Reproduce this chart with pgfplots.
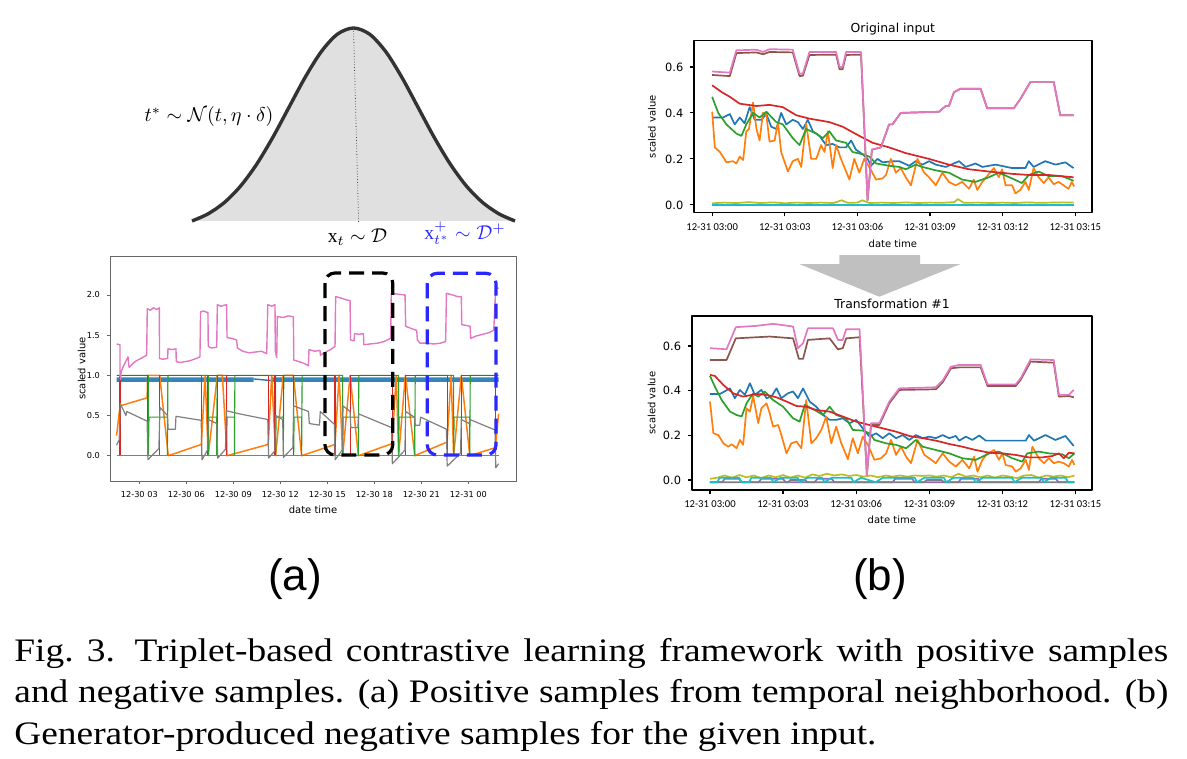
\documentclass[border=0pt]{standalone}
\usepackage{fontspec}
\setmainfont{Liberation Serif}
\newfontfamily\capfont[FakeStretch=1.14]{Liberation Serif}
\newfontfamily\dejavu{DejaVu Sans}
\newfontfamily\carlito{Carlito}
\newfontfamily\arialf{Liberation Sans}
\usepackage{pgfplots}
\pgfplotsset{compat=1.18}

\definecolor{tabblue}{HTML}{1F77B4}
\definecolor{taborange}{HTML}{FF7F0E}
\definecolor{tabgreen}{HTML}{2CA02C}
\definecolor{tabred}{HTML}{D62728}
\definecolor{tabpurple}{HTML}{9467BD}
\definecolor{tabbrown}{HTML}{8C564B}
\definecolor{tabpink}{HTML}{E377C2}
\definecolor{tabgray}{HTML}{7F7F7F}
\definecolor{tabolive}{HTML}{BCBD22}
\definecolor{tabcyan}{HTML}{17BECF}
\definecolor{gaussfill}{HTML}{E0E0E0}
\definecolor{gaussline}{HTML}{333333}
\definecolor{posblue}{HTML}{2828FF}
\definecolor{arrowgray}{HTML}{C0C0C0}

\pgfplotsset{
  rightax/.style={
    scale only axis, xmin=-0.75, xmax=15.68,
    axis line style={line width=0.8pt, black},
    tick pos=left, tick align=outside, major tick length=1.8pt,
    every tick/.style={black, line width=0.6pt},
    xtick={0,3,6,9,12,15},
    xticklabels={12-31 03:00,12-31 03:03,12-31 03:06,12-31 03:09,12-31 03:12,12-31 03:15},
    ytick={0,0.2,0.4,0.6}, yticklabels={0.0,0.2,0.4,0.6},
    xticklabel style={font=\carlito\fontsize{5.3}{6}\selectfont},
    yticklabel style={font=\dejavu\fontsize{5.7}{6}\selectfont},
    xlabel={date time}, ylabel={scaled value},
    label style={font=\dejavu\fontsize{5}{6}\selectfont},
    no markers, line join=round, every axis plot/.append style={line width=0.85pt},
  },
}

\begin{document}
\begin{tikzpicture}
\begin{scope}[x=0.5pt,y=-0.5pt]
\path[use as bounding box] (0,0) rectangle (1187,759);
\coordinate (G) at (192,221);
\coordinate (L) at (110,481);
\coordinate (R1) at (694,212.7);
\coordinate (R2) at (691.7,490);
\end{scope}

% bell curve
\begin{axis}[at={(G)}, anchor=south west, scale only axis, width=161.5pt, height=96.5pt,
  xmin=-2.5, xmax=2.5, ymin=0, ymax=0.9561, hide axis, clip=false]
\addplot[fill=gaussfill, draw=none, smooth] coordinates {
(-2.5,0)(-2.25,0.0357)(-2,0.0914)(-1.75,0.1724)(-1.5,0.2808)(-1.25,0.4139)(-1,0.5626)
(-0.75,0.7109)(-0.5,0.8386)(-0.25,0.9253)(0,0.9561)(0.25,0.9253)(0.5,0.8386)(0.75,0.7109)
(1,0.5626)(1.25,0.4139)(1.5,0.2808)(1.75,0.1724)(2,0.0914)(2.25,0.0357)(2.5,0)} \closedcycle;
\addplot[gaussline, line width=1.7pt, smooth] coordinates {
(-2.5,0)(-2.25,0.0357)(-2,0.0914)(-1.75,0.1724)(-1.5,0.2808)(-1.25,0.4139)(-1,0.5626)
(-0.75,0.7109)(-0.5,0.8386)(-0.25,0.9253)(0,0.9561)(0.25,0.9253)(0.5,0.8386)(0.75,0.7109)
(1,0.5626)(1.25,0.4139)(1.5,0.2808)(1.75,0.1724)(2,0.0914)(2.25,0.0357)(2.5,0)};
\draw[densely dotted, gray!60!black, line width=0.4pt] (axis cs:0,0.956) -- (axis cs:0.08,-0.01);
\end{axis}

% positive samples from the neighbourhood
\begin{axis}[at={(L)}, anchor=south west, scale only axis, width=203pt, height=112.5pt,
  xmin=1.13, xmax=27.04, ymin=-0.315, ymax=2.485,
  axis line style={line width=0.4pt, gray!80!black}, tick pos=left, tick align=outside,
  major tick length=1.5pt, every tick/.style={gray!80!black, line width=0.4pt},
  xtick={3,6,9,12,15,18,21,24},
  xticklabels={12-30 03,12-30 06,12-30 09,12-30 12,12-30 15,12-30 18,12-30 21,12-31 00},
  ytick={0,0.5,1,1.5,2}, yticklabels={0.0,0.5,1.0,1.5,2.0},
  ticklabel style={font=\dejavu\fontsize{4.1}{5}\selectfont},
  xlabel={date time}, ylabel={scaled value},
  label style={font=\dejavu\fontsize{5}{6}\selectfont},
  xlabel style={at={(axis description cs:0.5,-0.129)}, anchor=center},
  ylabel style={at={(axis description cs:-0.07,0.5)}, anchor=center},
  unbounded coords=jump, no markers, line join=round]
% dense blue series drawn as its band
\addplot[fill=tabblue!90, draw=none] coordinates {
(1.55,0.918)(10.3,0.918)(10.3,0.975)(1.55,0.975)(1.55,0.918)};
\addplot[fill=tabblue!90, draw=none] coordinates {
(11.4,0.918)(25.93,0.918)(25.93,0.975)(11.4,0.975)(11.4,0.918)};
\addplot[tabblue, line width=0.7pt] coordinates {(10.3,0.955)(11.4,0.935)};
\addplot[tabblue!70, line width=0.5pt] coordinates {
(3.58,0.95)(3.58,0)(3.58,nan)(4.83,0.95)(4.83,0)(4.83,nan)(15.98,0.95)(15.98,0)(15.98,nan)(23.06,0.95)(23.06,0)};
\addplot[taborange, line width=0.75pt] coordinates {
(1.55,0.25)(1.77,0.62)(3.50,0.72)(3.53,1.0)(4.30,1.0)(4.85,0.0)(6.96,0.14)(7.20,1.0)(7.40,0.0)
(7.98,1.0)(8.30,1.0)(8.60,0.0)(11.23,0.14)(11.45,1.0)(11.70,0.0)(12.19,1.0)(12.83,1.0)(13.36,0.0)
(15.49,0.14)(15.75,1.0)(15.98,0.0)(16.45,1.0)(16.98,0.0)(19.13,0.15)(19.40,1.0)(19.55,0.0)
(19.98,1.0)(20.58,0.0)(22.64,0.17)(22.90,1.0)(23.06,0.0)(23.55,1.0)(24.09,0.0)(25.72,0.10)(25.93,0.52)};
\addplot[tabgreen, line width=0.55pt] coordinates {
(1.55,1)(3.58,1)(3.58,0)(3.62,0.48)(4.79,0.48)(4.79,0)(4.83,1)
(7.40,1)(7.40,0)(7.43,0.48)(7.94,0.48)(7.94,0)(7.97,1)
(8.57,1)(8.57,0)(8.60,0.48)(9.07,0.48)(9.07,0)(9.10,1)
(11.70,1)(11.70,0)(11.73,0.48)(12.19,0.48)(12.19,0)(12.22,1)
(12.85,1)(12.85,0)(12.88,0.48)(13.36,0.48)(13.36,0)(13.39,1)
(15.98,1)(15.98,0)(16.01,0.48)(16.98,0.48)(16.98,0)(17.01,1)
(19.55,1)(19.55,0)(19.58,0.48)(20.58,0.48)(20.58,0)(20.61,1)
(23.06,1)(23.06,0)(23.09,0.48)(24.09,0.48)(24.09,0)(24.12,1)(25.93,1)};
\addplot[tabred, line width=0.55pt] coordinates {
(1.55,1)(1.76,1)(1.76,0)(1.79,0)(1.79,1)(3.51,1)(3.51,0)(4.30,0)(4.30,1)(6.96,1)(6.96,0)(7.38,0)
(7.38,1)(7.98,1)(7.98,0)(8.55,0)(8.55,1)(11.23,1)(11.23,0)(11.66,0)(11.66,1)(12.19,1)(12.19,0)
(12.83,0)(12.83,1)(15.49,1)(15.49,0)(16.45,0)(16.45,1)(19.13,1)(19.13,0)(19.98,0)(19.98,1)
(22.64,1)(22.64,0)(23.55,0)(23.55,1)(25.72,1)(25.72,0)(25.93,0)};
\addplot[tabpurple, line width=0.6pt] coordinates {(1.55,0)(25.93,0)};
\addplot[tabpink, line width=0.7pt] coordinates {
(1.55,1.39)(1.77,1.38)(1.77,1.0)(1.80,0.95)(1.85,1.05)(2.0,1.12)(2.28,1.23)(2.33,1.12)(2.36,1.10)
(2.6,1.15)(2.8,1.18)(3.0,1.20)(3.2,1.22)(3.47,1.25)(3.51,1.83)(3.7,1.81)(3.9,1.84)(4.1,1.82)
(4.28,1.84)(4.29,1.21)(4.5,1.20)(4.81,1.21)(4.83,1.33)(5.1,1.32)(5.34,1.33)(5.36,1.17)(5.6,1.16)
(5.9,1.17)(6.2,1.18)(6.5,1.20)(6.87,1.23)(6.91,1.79)(7.1,1.80)(7.38,1.78)(7.40,1.36)(7.6,1.34)
(7.94,1.35)(7.98,1.88)(8.2,1.86)(8.57,1.88)(8.60,1.47)(8.9,1.46)(9.21,1.44)(9.26,1.34)(9.6,1.30)
(10.0,1.28)(10.4,1.29)(10.8,1.30)(11.13,1.27)(11.20,1.88)(11.45,1.86)(11.66,1.88)(11.68,1.30)
(11.77,1.22)(11.81,1.73)(12.2,1.72)(12.5,1.74)(12.83,1.73)(12.86,1.19)(13.2,1.17)(13.5,1.15)
(13.79,1.12)(13.83,1.32)(14.2,1.30)(14.53,1.31)(14.56,1.25)(14.9,1.29)(15.2,1.32)(15.49,1.36)
(15.53,1.98)(15.9,1.96)(16.2,1.94)(16.45,1.93)(16.48,1.44)(16.7,1.43)(16.74,1.52)(17.0,1.51)
(17.30,1.52)(17.33,1.38)(17.7,1.39)(18.2,1.40)(18.6,1.42)(19.04,1.46)(19.08,2.02)(19.5,2.01)
(19.96,2.0)(20.0,1.61)(20.4,1.58)(20.70,1.56)(20.75,1.44)(20.91,1.40)(21.3,1.40)(21.8,1.39)
(22.2,1.40)(22.55,1.42)(22.60,2.02)(23.0,2.0)(23.3,1.98)(23.55,1.98)(23.58,1.63)(23.9,1.62)
(24.11,1.61)(24.15,1.46)(24.5,1.49)(24.9,1.51)(25.3,1.53)(25.62,1.56)(25.75,2.10)(25.93,2.08)};
\addplot[tabgray, line width=0.6pt] coordinates {
(1.55,0.13)(1.72,0.20)(1.78,0.65)(2.15,0.50)(2.20,0.55)(3.50,0.43)
(3.55,-0.05)(4.25,0.09)(4.32,0.60)(4.80,0.50)(4.84,0.33)(5.30,0.33)(5.34,0.49)(6.95,0.44)
(7.00,-0.05)(7.35,0.07)(7.40,0.45)(7.95,0.40)(8.00,-0.03)(8.50,0.08)(8.55,0.56)(9.40,0.52)(11.20,0.45)
(11.25,-0.03)(11.65,0.06)(11.70,0.50)(12.15,0.45)(12.20,-0.02)(12.80,0.10)(12.85,0.62)(13.80,0.55)
(13.85,0.40)(14.50,0.38)(14.55,0.55)(15.45,0.39)
(15.50,-0.05)(15.95,0.07)(16.00,0.62)(16.45,0.55)(16.50,0.35)(16.95,0.35)(17.00,0.52)(19.10,0.35)
(19.15,-0.10)(19.95,0.07)(20.00,0.55)(20.55,0.48)(20.60,0.38)(20.90,0.38)(20.95,0.48)(22.60,0.33)
(22.65,-0.13)(23.50,0.03)(23.55,0.45)(24.05,0.40)(24.10,0.45)(25.70,0.32)(25.75,-0.15)(25.93,-0.10)};
\end{axis}

% original input
\begin{axis}[rightax, at={(R1)}, anchor=south west, width=198.85pt, height=86pt,
  ymin=-0.034, ymax=0.714,
  xlabel style={at={(axis description cs:0.5,-0.178)}, anchor=center},
  ylabel style={at={(axis description cs:-0.106,0.5)}, anchor=center}]
\addplot[tabblue] coordinates {
(0.00,0.38)(0.45,0.38)(0.73,0.395)(0.93,0.35)(1.14,0.38)(1.34,0.355)(1.55,0.425)(1.76,0.37)
(2.03,0.37)(2.24,0.395)(2.44,0.34)(2.65,0.33)(2.85,0.40)(3.06,0.35)(3.33,0.37)(3.54,0.36)
(3.75,0.33)(3.95,0.37)(4.16,0.32)(4.43,0.30)(4.71,0.26)(4.98,0.265)(5.26,0.25)(5.53,0.25)
(5.74,0.28)(5.94,0.24)(6.22,0.22)(6.42,0.20)(6.56,0.17)(6.83,0.20)(7.04,0.185)(7.45,0.19)
(7.73,0.19)(8.14,0.17)(8.41,0.19)(8.69,0.175)(8.96,0.19)(9.24,0.175)(9.65,0.165)(10.20,0.19)
(10.47,0.165)(10.88,0.18)(11.16,0.165)(11.71,0.175)(12.39,0.16)(12.94,0.16)(13.08,0.19)
(13.28,0.165)(13.76,0.19)(14.18,0.175)(14.59,0.185)(14.93,0.16)};
\addplot[taborange] coordinates {
(0.00,0.405)(0.11,0.25)(0.32,0.23)(0.59,0.185)(0.86,0.19)(1.00,0.18)(1.14,0.21)(1.28,0.195)
(1.41,0.32)(1.52,0.33)(1.69,0.445)(1.83,0.33)(1.96,0.28)(2.10,0.40)(2.24,0.39)(2.37,0.275)
(2.58,0.28)(2.72,0.36)(2.85,0.23)(3.13,0.145)(3.33,0.19)(3.54,0.20)(3.68,0.165)(3.88,0.355)
(4.09,0.20)(4.30,0.20)(4.50,0.26)(4.64,0.23)(4.78,0.32)(4.98,0.16)(5.12,0.26)(5.32,0.20)
(5.67,0.11)(5.87,0.20)(6.08,0.14)(6.28,0.20)(6.49,0.165)(6.77,0.11)(7.04,0.115)(7.18,0.13)
(7.38,0.20)(7.59,0.14)(7.79,0.16)(8.00,0.12)(8.21,0.085)(8.48,0.20)(8.76,0.14)(8.96,0.12)
(9.24,0.085)(9.51,0.14)(9.78,0.10)(10.06,0.085)(10.33,0.10)(10.61,0.07)(10.81,0.11)(10.95,0.065)
(11.16,0.10)(11.36,0.125)(11.64,0.16)(11.84,0.12)(11.98,0.155)(12.12,0.085)(12.39,0.085)
(12.53,0.05)(12.73,0.065)(12.94,0.10)(13.08,0.065)(13.28,0.16)(13.49,0.12)(13.70,0.095)
(13.90,0.12)(14.11,0.09)(14.31,0.10)(14.52,0.085)(14.72,0.07)(14.86,0.10)(14.95,0.08)};
\addplot[tabgreen] coordinates {
(0.00,0.47)(0.25,0.40)(0.59,0.35)(1.00,0.31)(1.21,0.30)(1.41,0.35)(1.69,0.40)(1.96,0.38)
(2.24,0.405)(2.65,0.36)(2.92,0.35)(3.33,0.29)(3.61,0.26)(3.88,0.33)(4.30,0.31)(4.57,0.29)
(4.84,0.32)(5.12,0.28)(5.53,0.27)(5.80,0.23)(6.22,0.22)(6.49,0.21)(6.77,0.18)(7.31,0.17)
(7.73,0.165)(8.00,0.155)(8.41,0.175)(8.69,0.165)(9.24,0.15)(9.78,0.14)(10.33,0.11)(10.88,0.10)
(11.43,0.12)(11.84,0.14)(12.39,0.115)(12.80,0.095)(13.08,0.13)(13.49,0.145)(13.90,0.125)
(14.45,0.125)(14.93,0.105)};
\addplot[tabred] coordinates {
(0.00,0.52)(0.40,0.49)(0.73,0.47)(1.14,0.44)(1.83,0.43)(2.37,0.435)(2.92,0.425)(3.47,0.39)
(4.02,0.375)(4.84,0.36)(5.39,0.34)(6.08,0.30)(6.63,0.27)(7.31,0.25)(8.00,0.225)(8.96,0.20)
(9.78,0.175)(10.60,0.155)(11.43,0.145)(12.39,0.135)(13.08,0.13)(13.90,0.13)(14.93,0.12)};
\addplot[tabpurple] coordinates {(0,0)(14.93,0)};
\addplot[tabbrown] coordinates {
(0.00,0.565)(0.73,0.56)(1.00,0.66)(1.83,0.663)(2.10,0.655)(2.37,0.665)(3.33,0.663)(3.61,0.56)
(3.75,0.562)(4.02,0.652)(5.12,0.653)(5.26,0.59)(5.39,0.59)(5.53,0.652)(6.15,0.653)(6.42,0.02)
(6.60,0.24)(6.97,0.25)(7.31,0.35)(7.45,0.35)(7.79,0.40)(9.37,0.405)(9.65,0.43)(9.78,0.43)
(9.99,0.49)(10.26,0.505)(11.09,0.505)(11.36,0.42)(12.46,0.42)(12.73,0.46)(13.15,0.535)
(14.11,0.535)(14.38,0.39)(14.93,0.39)};
\addplot[tabpink] coordinates {
(0.00,0.58)(0.73,0.575)(1.00,0.672)(1.83,0.675)(2.10,0.665)(2.37,0.677)(3.33,0.675)(3.61,0.57)
(3.75,0.572)(4.02,0.665)(5.12,0.665)(5.26,0.60)(5.39,0.60)(5.53,0.665)(6.15,0.665)(6.42,0.02)
(6.60,0.24)(6.97,0.25)(7.31,0.35)(7.45,0.35)(7.79,0.40)(9.37,0.405)(9.65,0.43)(9.78,0.43)
(9.99,0.49)(10.26,0.505)(11.09,0.505)(11.36,0.42)(12.46,0.42)(12.73,0.46)(13.15,0.535)
(14.11,0.535)(14.38,0.39)(14.93,0.39)};
\addplot[tabgray] coordinates {(0,0)(14.93,0)};
\addplot[tabolive] coordinates {
(0,0.007)(0.5,0.01)(1,0.008)(1.5,0.012)(2,0.008)(2.5,0.011)(3,0.007)(3.5,0.01)(4,0.008)(4.5,0.01)
(5.0,0.008)(5.35,0.02)(5.6,0.009)(6.0,0.01)(6.2,0.02)(6.5,0.008)(7,0.01)(7.5,0.008)(8,0.011)
(8.5,0.008)(9,0.01)(9.5,0.009)(10.0,0.012)(10.15,0.025)(10.4,0.009)(11,0.01)(11.5,0.008)(12,0.01)
(12.5,0.008)(13,0.011)(13.5,0.009)(14,0.01)(14.5,0.011)(14.93,0.01)};
\addplot[tabcyan] coordinates {(0,0)(14.93,0)};
\end{axis}

% transformation #1
\begin{axis}[rightax, at={(R2)}, anchor=south west, width=200.15pt, height=87pt,
  ymin=-0.045, ymax=0.734,
  xlabel style={at={(axis description cs:0.5,-0.172)}, anchor=center},
  ylabel style={at={(axis description cs:-0.1,0.5)}, anchor=center}]
\addplot[tabblue] coordinates {
(0.00,0.385)(0.41,0.385)(0.82,0.410)(1.02,0.366)(1.23,0.403)(1.43,0.381)(1.64,0.433)(1.84,0.381)
(2.11,0.403)(2.32,0.366)(2.52,0.373)(2.73,0.410)(2.93,0.366)(3.20,0.388)(3.41,0.396)(3.61,0.366)
(3.82,0.410)(4.09,0.351)(4.36,0.328)(4.64,0.291)(4.91,0.269)(5.18,0.269)(5.45,0.276)(5.73,0.254)
(6.00,0.269)(6.27,0.231)(6.55,0.194)(6.82,0.209)(7.09,0.187)(7.36,0.209)(7.64,0.187)(7.91,0.201)
(8.18,0.179)(8.45,0.201)(8.73,0.187)(9.00,0.194)(9.27,0.187)(9.55,0.201)(9.82,0.187)(10.09,0.197)
(10.23,0.176)(10.50,0.194)(10.77,0.179)(11.05,0.199)(11.32,0.176)(11.73,0.176)(12.41,0.176)
(12.96,0.176)(13.09,0.201)(13.30,0.176)(13.77,0.201)(14.18,0.179)(14.59,0.197)(14.93,0.152)};
\addplot[taborange] coordinates {
(0.00,0.351)(0.14,0.209)(0.34,0.201)(0.55,0.164)(0.75,0.149)(0.89,0.160)(1.09,0.142)(1.23,0.179)
(1.36,0.157)(1.50,0.321)(1.64,0.306)(1.77,0.376)(1.98,0.254)(2.11,0.321)(2.32,0.343)(2.45,0.299)
(2.59,0.239)(2.80,0.246)(2.93,0.201)(3.14,0.119)(3.34,0.164)(3.55,0.172)(3.75,0.142)(3.95,0.358)
(4.16,0.164)(4.36,0.187)(4.57,0.224)(4.77,0.284)(4.98,0.164)(5.18,0.239)(5.39,0.164)(5.66,0.093)
(5.86,0.187)(6.07,0.119)(6.27,0.194)(6.48,0.157)(6.75,0.090)(7.02,0.097)(7.23,0.119)(7.43,0.179)
(7.64,0.112)(7.84,0.149)(8.05,0.104)(8.25,0.075)(8.52,0.179)(8.80,0.112)(9.00,0.097)(9.27,0.075)
(9.55,0.119)(9.82,0.082)(10.09,0.060)(10.36,0.090)(10.64,0.052)(10.84,0.104)(10.98,0.037)
(11.18,0.090)(11.39,0.119)(11.66,0.134)(11.86,0.090)(12.00,0.119)(12.14,0.067)(12.41,0.060)
(12.55,0.037)(12.75,0.052)(12.96,0.090)(13.09,0.045)(13.23,0.149)(13.50,0.097)(13.71,0.075)
(13.91,0.097)(14.11,0.075)(14.32,0.082)(14.52,0.075)(14.73,0.060)(14.86,0.090)(14.96,0.067)};
\addplot[tabgreen] coordinates {
(0.00,0.466)(0.20,0.418)(0.48,0.358)(0.82,0.306)(1.09,0.291)(1.30,0.284)(1.50,0.343)(1.77,0.388)
(1.98,0.373)(2.25,0.396)(2.59,0.358)(3.00,0.328)(3.41,0.276)(3.68,0.261)(3.89,0.336)(4.30,0.313)
(4.64,0.291)(4.91,0.328)(5.18,0.291)(5.59,0.276)(5.86,0.224)(6.27,0.221)(6.55,0.209)(6.75,0.179)
(7.23,0.164)(7.64,0.157)(8.05,0.142)(8.45,0.179)(8.73,0.149)(9.27,0.134)(9.82,0.119)(10.36,0.097)
(10.91,0.090)(11.46,0.119)(11.86,0.127)(12.41,0.097)(12.82,0.082)(13.02,0.119)(13.50,0.127)
(13.91,0.119)(14.46,0.115)(14.73,0.097)(14.96,0.119)};
\addplot[tabred] coordinates {
(0.00,0.470)(0.20,0.466)(0.55,0.425)(0.95,0.388)(1.36,0.373)(1.91,0.385)(2.32,0.381)(2.73,0.370)
(3.14,0.351)(3.55,0.331)(3.95,0.328)(4.36,0.313)(4.91,0.306)(5.45,0.284)(6.00,0.261)(6.55,0.246)
(7.09,0.231)(7.64,0.216)(8.18,0.197)(8.73,0.187)(9.27,0.176)(9.82,0.161)(10.36,0.149)(10.91,0.134)
(11.46,0.122)(12.00,0.119)(12.55,0.112)(13.09,0.101)(13.64,0.101)(14.05,0.107)(14.32,0.119)
(14.52,0.097)(14.73,0.122)(14.96,0.119)};
\addplot[tabpurple] coordinates {
(0,-0.01)(0.5,-0.01)(0.6,0.005)(1.2,0.005)(1.3,-0.01)(2.0,-0.01)(2.1,0.005)(3.0,0.005)(3.1,-0.01)
(4.3,-0.01)(4.4,0.005)(5.0,0.005)(5.1,-0.01)(7.5,-0.01)(7.6,0.005)(8.3,0.005)(8.4,-0.01)(10.2,-0.01)
(10.3,0.005)(11.0,0.005)(11.1,-0.01)(13.5,-0.01)(13.6,0.005)(14.2,0.005)(14.3,-0.01)(14.96,-0.01)};
\addplot[tabbrown] coordinates {
(0.00,0.537)(0.68,0.537)(1.06,0.634)(2.45,0.642)(3.41,0.634)(3.65,0.542)(3.82,0.542)(4.02,0.627)
(4.91,0.634)(5.25,0.585)(5.45,0.590)(5.59,0.634)(6.14,0.639)(6.44,0.022)(6.61,0.246)(6.95,0.246)
(7.36,0.343)(7.77,0.403)(9.27,0.406)(9.55,0.437)(9.89,0.500)(10.23,0.504)(11.11,0.504)(11.39,0.421)
(12.55,0.421)(12.75,0.448)(13.16,0.530)(14.11,0.525)(14.32,0.373)(14.73,0.376)(14.93,0.370)};
\addplot[tabpink] coordinates {
(0.00,0.590)(0.68,0.585)(1.06,0.684)(1.91,0.690)(2.59,0.699)(3.41,0.687)(3.61,0.590)(3.82,0.612)
(4.02,0.679)(5.05,0.679)(5.25,0.627)(5.45,0.627)(5.59,0.675)(6.14,0.675)(6.44,0.022)(6.61,0.254)
(6.95,0.254)(7.36,0.351)(7.77,0.410)(9.27,0.415)(9.55,0.445)(9.89,0.507)(10.23,0.515)(11.11,0.515)
(11.39,0.428)(12.55,0.428)(12.75,0.455)(13.16,0.540)(14.11,0.537)(14.32,0.381)(14.73,0.381)(14.93,0.403)};
\addplot[tabgray] coordinates {
(0,-0.01)(3.2,-0.01)(3.3,0.0)(3.9,0.0)(4.0,-0.01)(8.8,-0.01)(8.9,0.0)(9.5,0.0)(9.6,-0.01)(14.96,-0.01)};
\addplot[tabolive] coordinates {
(0,0.005)(0.3,0.01)(0.6,0.02)(0.9,0.01)(1.2,0.022)(1.5,0.012)(1.8,0.02)(2.1,0.008)(2.4,0.02)
(2.7,0.012)(3.0,0.022)(3.3,0.01)(3.6,0.02)(3.9,0.01)(4.2,0.025)(4.5,0.018)(4.8,0.028)(5.1,0.02)
(5.4,0.025)(5.7,0.018)(6.0,0.022)(6.3,0.015)(6.6,0.02)(6.9,0.012)(7.2,0.02)(7.5,0.015)(7.8,0.02)
(8.1,0.015)(8.4,0.02)(8.7,0.018)(9.0,0.02)(9.3,0.015)(9.6,0.02)(9.9,0.012)(10.2,0.028)(10.5,0.015)
(10.8,0.02)(11.1,0.012)(11.4,0.02)(11.7,0.01)(12.0,0.02)(12.3,0.015)(12.6,0.008)(12.9,0.02)
(13.2,0.022)(13.5,0.01)(13.8,0.02)(14.1,0.015)(14.4,0.02)(14.7,0.012)(14.96,0.02)};
\addplot[tabcyan] coordinates {
(0,-0.01)(0.3,-0.01)(0.4,0.01)(1.2,0.01)(1.3,-0.01)(1.6,-0.01)(1.7,0.01)(2.5,0.01)(2.6,-0.01)
(2.9,0.01)(3.6,0.01)(3.7,-0.01)(4.0,0.01)(4.6,0.01)(4.7,-0.01)(5.0,0.01)(5.8,0.01)(5.9,-0.01)
(6.2,0.01)(6.8,-0.01)(7.1,0.01)(8.4,0.01)(8.5,-0.01)(8.8,0.01)(9.6,0.01)(9.7,-0.01)(10.0,0.01)
(10.8,0.01)(10.9,-0.01)(11.2,0.01)(12.4,0.01)(12.5,-0.01)(12.8,0.01)(13.6,0.01)(13.7,-0.01)
(14.0,0.01)(14.6,0.01)(14.7,-0.01)(14.96,-0.01)};
\end{axis}

\begin{scope}[x=0.5pt,y=-0.5pt]
% sample windows
\draw[black, line width=1.6pt, dash pattern=on 7.5pt off 4pt, rounded corners=5pt]
  (325,273) rectangle (392.7,455);
\draw[posblue, line width=1.6pt, dash pattern=on 7.5pt off 4pt, rounded corners=5pt]
  (427.3,273.3) rectangle (496,455);
% formula labels
\node[anchor=base, inner sep=0pt, font=\fontsize{10.2}{12}\selectfont] at (209,121.7)
  {$t^{*}\sim\mathcal{N}(t,\eta\cdot\delta)$};
\node[anchor=base, inner sep=0pt, font=\fontsize{9.8}{12}\selectfont] at (357.5,242.7)
  {$\mathrm{x}_t\sim\mathcal{D}$};
\node[anchor=base, inner sep=0pt, text=posblue, font=\fontsize{9.8}{12}\selectfont] at (465,239.5)
  {$\mathrm{x}^{+}_{t^{*}}\sim\mathcal{D}^{+}$};
% plot titles
\node[inner sep=0pt, font=\dejavu\fontsize{6.2}{7}\selectfont] at (892.9,29) {Original input};
\node[inner sep=0pt, font=\dejavu\fontsize{6.2}{7}\selectfont] at (892,304) {Transformation \#1};
% arrow between the two inputs
\fill[arrowgray] (839.3,255) -- (920,255) -- (920,264) -- (960.7,264) -- (879.3,296.7)
  -- (799.3,264) -- (839.3,264) -- cycle;
% panel letters
\node[anchor=base, inner sep=0pt, font=\arialf\fontsize{22}{26}\selectfont] at (295,590) {(a)};
\node[anchor=base, inner sep=0pt, font=\arialf\fontsize{22}{26}\selectfont] at (880,590) {(b)};
% caption
\node[anchor=north west, inner sep=0pt, text width=577pt, align=justify,
  font=\capfont\fontsize{16.4}{20.85}\selectfont] at (14,637.5)
  {Fig.~3.\hspace{0.6em}Triplet-based contrastive learning framework with positive samples\linebreak
   and negative samples. (a) Positive samples from temporal neighborhood. (b)\linebreak
   Generator-produced negative samples for the given input.};
\end{scope}
\end{tikzpicture}
\end{document}
